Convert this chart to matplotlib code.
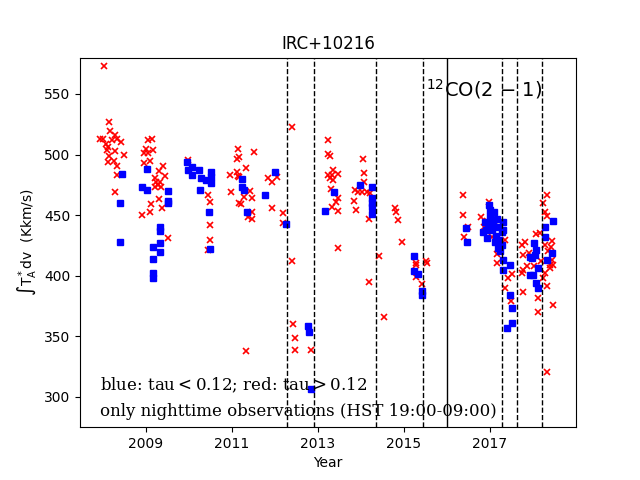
import numpy as np
import matplotlib
matplotlib.use("Agg")
import matplotlib.pyplot as plt

# tau > 0.12 (red crosses)
red_year = [
    2008.02, 2008.15, 2008.16, 2008.01, 2008.28, 2008.32, 2008.42, 2008.12, 2008.09, 2008.28,
    2008.14, 2008.12, 2008.49, 2008.33, 2008.33, 2008.28, 2007.93, 2008.22, 2008.06, 2008.25,
    2009.13, 2008.99, 2009.05, 2008.95, 2009.10, 2008.96, 2009.40, 2009.30, 2009.21, 2009.29,
    2009.21, 2009.36, 2009.30, 2009.12, 2009.38, 2009.10, 2008.91, 2009.50, 2009.05, 2009.16,
    2009.23, 2009.33, 2009.44,
    2009.98, 2010.45, 2010.49, 2010.49, 2010.49, 2010.45, 2010.95, 2010.98, 2011.17, 2011.16,
    2011.15, 2011.50, 2011.16, 2011.12, 2011.33, 2011.11, 2011.13, 2011.42, 2011.29, 2011.46,
    2011.20, 2011.46, 2011.47, 2011.38, 2011.84, 2011.94, 2012.04, 2011.94, 2012.19, 2012.19,
    2012.40, 2012.40, 2011.33, 2012.43, 2012.47, 2012.47, 2012.83,
    2013.24, 2013.24, 2013.28, 2013.36, 2013.24, 2013.32, 2013.47, 2013.28, 2013.36, 2013.30,
    2013.47, 2013.43, 2013.32, 2013.47, 2013.47,
    2014.05, 2014.08, 2014.07, 2013.86, 2013.94, 2014.02, 2014.13, 2014.21, 2013.84, 2013.88,
    2014.19, 2014.42, 2014.19, 2014.54,
    2014.79, 2014.81, 2014.87, 2014.95, 2015.27, 2015.29, 2015.27, 2015.41, 2015.50, 2015.53,
    2016.38, 2016.38, 2016.49, 2016.40, 2016.98, 2016.78, 2017.35, 2017.17, 2017.17, 2017.35,
    2017.49, 2017.43, 2017.77, 2018.11, 2018.12, 2018.47, 2018.32, 2017.74, 2017.76, 2018.40,
    2018.28, 2018.32, 2018.24, 2018.29, 2018.32, 2018.16, 2018.07, 2017.81, 2017.74, 2018.28,
    2018.44, 2018.47, 2018.40, 2017.85, 2017.77, 2018.23, 2018.32, 2017.50, 2017.05, 2016.92,
    2018.36, 2018.42, 2018.18, 2018.45, 2017.90, 2018.02, 2016.85, 2017.12,
]
red_flux = [
    573.1, 526.7, 519.5, 512.9, 516.2, 512.6, 510.4, 506.5, 503.8, 503.2,
    498.9, 494.1, 499.7, 490.6, 483.2, 469.2, 513.0, 512.0, 509.0, 495.0,
    512.6, 504.4, 501.1, 501.1, 495.0, 493.3, 490.6, 486.7, 480.5, 474.9,
    473.0, 473.0, 463.1, 459.3, 455.7, 452.9, 450.2, 431.4, 512.0, 503.8,
    477.4, 477.0, 482.0,
    495.6, 466.7, 461.1, 441.9, 429.5, 421.3, 483.2, 468.9, 459.8, 481.8,
    504.6, 502.4, 498.3, 496.4, 489.2, 485.9, 482.6, 470.0, 465.3, 464.0,
    459.3, 452.9, 446.7, 448.8, 480.5, 477.6, 481.3, 455.7, 451.6, 443.8,
    522.5, 412.5, 338.0, 360.2, 348.4, 338.8, 338.8,
    511.6, 500.5, 498.9, 487.3, 483.2, 483.2, 484.0, 480.5, 479.1, 471.4,
    464.0, 461.1, 456.5, 453.5, 422.7,
    496.1, 484.6, 477.6, 470.8, 469.4, 468.9, 468.9, 468.1, 461.7, 454.3,
    446.9, 416.3, 394.7, 365.8,
    455.7, 452.9, 446.0, 427.7, 410.8, 408.9, 398.8, 393.0, 412.2, 410.3,
    466.7, 450.2, 440.5, 432.3, 461.1, 448.8, 429.5, 418.0, 410.3, 389.7,
    379.5, 397.9, 386.4, 381.5, 369.9, 375.9, 320.4, 402.6, 417.2, 408.9,
    402.1, 466.7, 459.8, 452.4, 449.4, 435.1, 434.5, 428.1, 425.4, 425.4,
    413.0, 408.9, 406.2, 408.1, 404.8, 397.9, 391.6, 401.5, 432.0, 445.0,
    420.0, 424.0, 412.0, 429.0, 419.0, 408.0, 440.0, 446.0,
]

# tau < 0.12 (blue squares)
blue_year = [
    2008.45, 2008.40, 2008.40, 2009.03, 2008.90, 2009.03, 2009.52, 2009.50, 2009.52, 2009.33,
    2009.33, 2009.17, 2009.33, 2009.33, 2009.17, 2009.17, 2009.17,
    2009.96, 2009.98, 2010.08, 2010.06, 2010.23, 2010.27, 2010.39, 2010.51, 2010.51, 2010.51,
    2010.26, 2010.47, 2010.49,
    2011.23, 2011.23, 2011.28, 2011.34, 2011.77, 2012.00, 2012.26, 2012.77, 2012.80, 2012.84,
    2013.17, 2013.38, 2013.98, 2014.25, 2014.25, 2014.25, 2014.25, 2014.25,
    2015.23, 2015.23, 2015.33, 2015.41, 2015.41, 2016.44, 2016.47,
    2017.00, 2016.98, 2016.88, 2016.84, 2017.08, 2017.19, 2017.27, 2017.12, 2017.27, 2017.31,
    2017.31, 2017.47, 2017.47, 2017.52, 2017.51, 2017.40, 2017.31, 2017.31, 2017.00, 2017.05,
    2016.95, 2017.14, 2017.21, 2016.91, 2017.09, 2017.02, 2017.16, 2016.93, 2017.24, 2017.18,
    2017.93, 2018.05, 2017.93, 2018.08, 2018.12, 2018.32, 2018.45, 2018.47, 2018.28, 2018.28,
    2018.02, 2018.07, 2017.97, 2018.12, 2018.00,
]
blue_flux = [
    484.0, 460.1, 427.7, 487.9, 473.0, 470.6, 470.0, 462.0, 459.8, 440.5,
    437.2, 424.0, 426.8, 419.9, 413.6, 402.1, 398.0,
    494.1, 487.3, 490.0, 483.2, 487.3, 480.5, 479.1, 485.9, 481.8,
    476.3, 470.6, 452.9, 421.9,
    479.9, 473.5, 470.8, 452.9, 466.7, 485.4, 442.5, 358.6, 353.9, 306.4,
    453.5, 469.0, 474.9, 473.0, 463.9, 459.8, 457.0, 450.8,
    416.4, 404.2, 401.5, 387.7, 384.2, 439.2, 428.1,
    454.3, 458.4, 444.6, 436.4, 443.3, 440.5, 436.4, 428.1, 425.4, 413.0,
    404.8, 408.9, 384.2, 373.2, 360.8, 356.7, 444.6, 437.8, 449.4, 437.8,
    441.1, 432.9, 429.5, 437.8, 452.6, 445.0, 447.0, 431.0, 420.0, 423.0,
    415.8, 417.2, 400.7, 393.9, 389.7, 413.0, 418.6, 445.5, 440.5, 432.3,
    427.3, 421.3, 414.4, 406.2, 400.7,
]

dashed_lines = [2012.28, 2012.91, 2014.35, 2015.44, 2017.28, 2017.63, 2018.21]
solid_line = 2016.0
year_ticks = [2009, 2011, 2013, 2015, 2017]

fig, ax = plt.subplots(figsize=(6.4, 4.8), dpi=100)

ax.plot(red_year, red_flux, "x", color="red", markersize=4, mew=1.2, linestyle="none")
ax.plot(blue_year, blue_flux, "s", color="blue", markersize=5, linestyle="none")

for xv in dashed_lines:
    ax.axvline(xv, color="black", linestyle="--", linewidth=1)
ax.axvline(solid_line, color="black", linewidth=1)

ax.set_xlim(2007.465, 2019.0)
ax.set_ylim(275, 580)
ax.set_xticks(year_ticks)
ax.set_xticklabels([str(y) for y in year_ticks])
ax.set_yticks([300, 350, 400, 450, 500, 550])

ax.set_title("IRC+10216")
ax.set_xlabel("Year")
ax.set_ylabel(r"$\int\mathrm{T_A^*dv}$  (Kkm/s)")

ax.text(2015.5, 548, "$^{12}$CO(2 \u2212 1)", fontsize=14)
ax.text(2007.93, 305.5, r"blue: tau$<$0.12; red: tau$>$0.12",
        family="DejaVu Serif", fontsize=12)
ax.text(2007.93, 284.5, "only nighttime observations (HST 19:00-09:00)",
        family="DejaVu Serif", fontsize=12)

fig.savefig("out.png", dpi=100)
